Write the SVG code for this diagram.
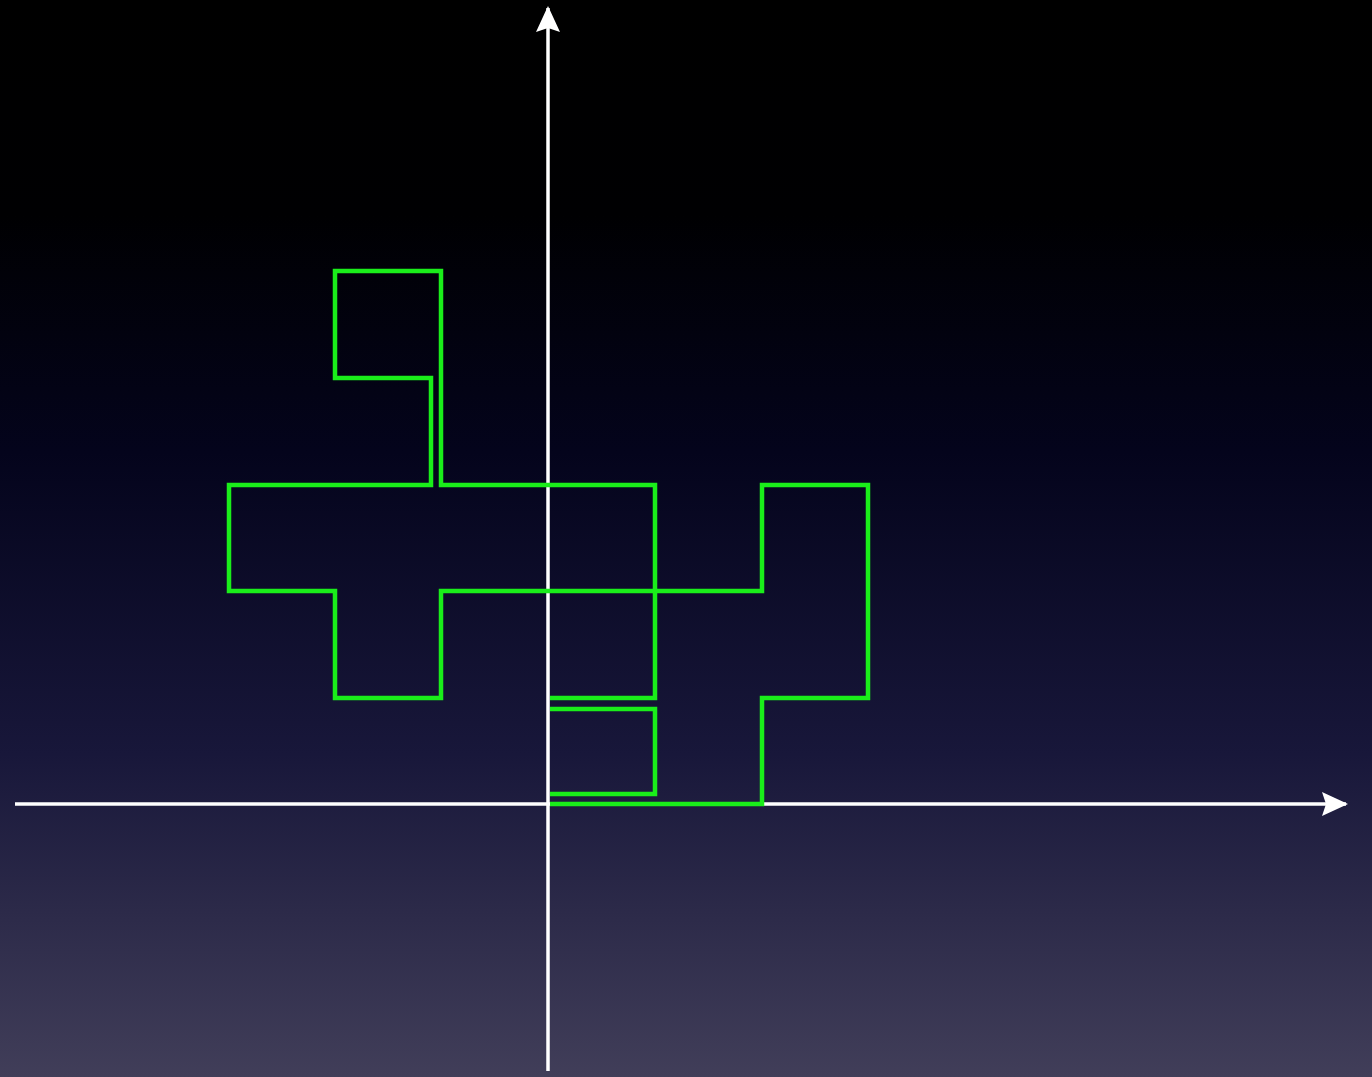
<svg xmlns="http://www.w3.org/2000/svg" width="1372" height="1077" viewBox="0 0 1372 1077">
  <defs>
    <linearGradient id="bg" x1="0" y1="0" x2="0" y2="1">
      <stop offset="0" stop-color="#000000"/>
      <stop offset="0.2" stop-color="#000002"/>
      <stop offset="0.42" stop-color="#04041c"/>
      <stop offset="0.7" stop-color="#18173a"/>
      <stop offset="1" stop-color="#413e59"/>
    </linearGradient>
    <marker id="arrow" viewBox="0 0 26 24" refX="24" refY="12" markerWidth="26" markerHeight="24" markerUnits="userSpaceOnUse" orient="auto">
      <path d="M0,0 L26,12 L0,24 L4,12 Z" fill="#ffffff"/>
    </marker>
    <style>
      .axis { stroke: #ffffff; stroke-width: 3.5; fill: none; }
      .shape { stroke: #1aee1a; stroke-width: 4.5; fill: none; stroke-linejoin: miter; }
    </style>
  </defs>
  <rect width="1372" height="1077" fill="url(#bg)"/>
  <g id="connectors">
    <line id="x-axis" class="axis" x1="15" y1="804" x2="1346" y2="804" marker-end="url(#arrow)"/>
    <line id="y-axis" class="axis" x1="548" y1="1071" x2="548" y2="8" marker-end="url(#arrow)"/>
  </g>
  <g id="shape">
    <polyline class="shape" points="550,804 762,804 762,698 868,698 868,485 762,485 762,591 441,591 441,698 335,698 335,591 229,591 229,485 431,485 431,378 335,378 335,271 441,271 441,485 655,485 655,698 550,698"/>
    <polyline class="shape" points="550,709 655,709 655,794 550,794"/>
  </g>
</svg>
